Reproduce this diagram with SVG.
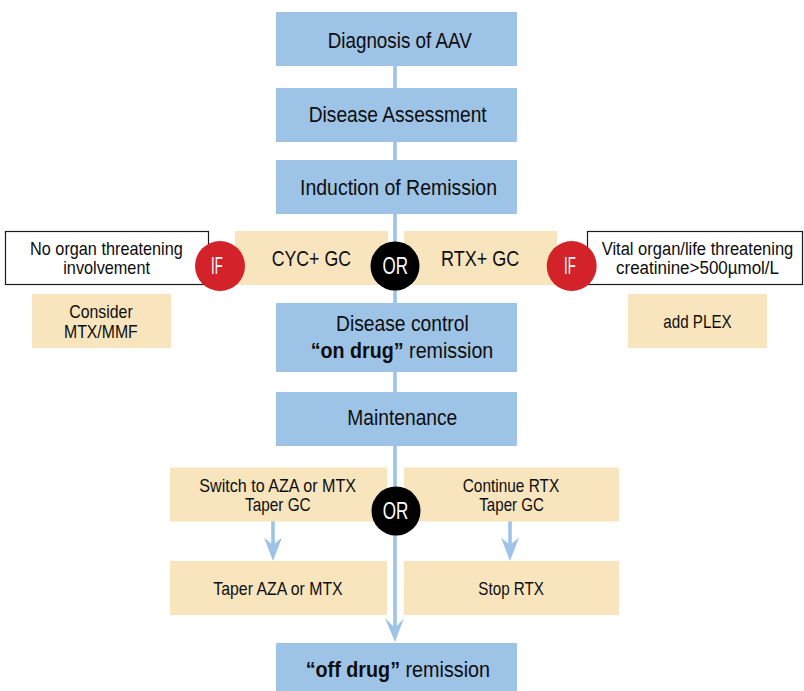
<svg xmlns="http://www.w3.org/2000/svg" width="804" height="691" viewBox="0 0 804 691">
<style>
.blue{fill:#9dc3e6}
.tan{fill:#f8e5bd}
.white{fill:#ffffff;stroke:#1a1a1a;stroke-width:1.2}
.red{fill:#d3222a}
.black{fill:#000000}
.line{stroke:#9dc3e6;stroke-width:3.6;fill:none}
.head{fill:#9dc3e6}
text{font-family:"Liberation Sans",Arial,sans-serif;fill:#0d0d0d}
.t21{font-size:22px}
.t18{font-size:19px}
.t17{font-size:18px}
.b{font-weight:bold}
.w{fill:#ffffff;font-size:23px}
</style>
<g id="connectors">
<line class="line" x1="395" y1="60" x2="395" y2="630"/>
<path class="head" d="M395,642 L385,618 L395,628 L404,618 Z"/>
<line class="line" x1="273" y1="521" x2="273" y2="548"/>
<path class="head" d="M273,561 L264,537.5 L273,545 L282,537.5 Z"/>
<line class="line" x1="510" y1="521" x2="510" y2="548"/>
<path class="head" d="M510,561 L501,537.5 L510,545 L519,537.5 Z"/>
</g>
<g id="diagnosis">
<rect class="blue" x="276" y="12" width="241" height="54"/>
<text class="t21" x="327.7" y="47.7" textLength="144" lengthAdjust="spacingAndGlyphs">Diagnosis of AAV</text>
</g>
<g id="assessment">
<rect class="blue" x="276" y="88" width="241" height="54"/>
<text class="t21" x="308.7" y="122" textLength="178" lengthAdjust="spacingAndGlyphs">Disease Assessment</text>
</g>
<g id="induction">
<rect class="blue" x="276" y="160" width="241" height="54"/>
<text class="t21" x="300" y="195" textLength="197" lengthAdjust="spacingAndGlyphs">Induction of Remission</text>
</g>
<g id="no-organ">
<rect class="white" x="5.5" y="231.5" width="203" height="53"/>
<text class="t18" x="106.4" y="255" text-anchor="middle" textLength="152.7" lengthAdjust="spacingAndGlyphs">No organ threatening</text>
<text class="t18" x="106.6" y="274.3" text-anchor="middle" textLength="86.7" lengthAdjust="spacingAndGlyphs">involvement</text>
</g>
<g id="cyc">
<rect class="tan" x="235" y="231" width="153" height="54"/>
<text class="t21" x="271.7" y="265.7" textLength="79.3" lengthAdjust="spacingAndGlyphs">CYC+ GC</text>
</g>
<g id="rtx">
<rect class="tan" x="404" y="231" width="153" height="54"/>
<text class="t21" x="441" y="265.7" textLength="78.3" lengthAdjust="spacingAndGlyphs">RTX+ GC</text>
</g>
<g id="vital-organ">
<rect class="white" x="587.5" y="231.5" width="215" height="53"/>
<text class="t17" x="697.5" y="255" text-anchor="middle" textLength="191.6" lengthAdjust="spacingAndGlyphs">Vital organ/life threatening</text>
<text class="t17" x="697.5" y="274.3" text-anchor="middle" textLength="163" lengthAdjust="spacingAndGlyphs">creatinine&gt;500µmol/L</text>
</g>
<g id="if-left">
<circle class="red" cx="220" cy="266" r="25"/>
<text class="w" x="211" y="274.3" textLength="11.7" lengthAdjust="spacingAndGlyphs">IF</text>
</g>
<g id="or-top">
<circle class="black" cx="395" cy="266" r="24.5"/>
<text class="w" x="382.5" y="274.3" textLength="25.5" lengthAdjust="spacingAndGlyphs">OR</text>
</g>
<g id="if-right">
<circle class="red" cx="571.7" cy="266" r="25"/>
<text class="w" x="564" y="274.3" textLength="11.7" lengthAdjust="spacingAndGlyphs">IF</text>
</g>
<g id="consider">
<rect class="tan" x="32" y="294" width="139" height="54"/>
<text class="t18" x="69.3" y="318.3" textLength="63.4" lengthAdjust="spacingAndGlyphs">Consider</text>
<text class="t18" x="64" y="337.7" textLength="73.7" lengthAdjust="spacingAndGlyphs">MTX/MMF</text>
</g>
<g id="plex">
<rect class="tan" x="628" y="294" width="139" height="54"/>
<text class="t18" x="663.3" y="328.3" textLength="68.4" lengthAdjust="spacingAndGlyphs">add PLEX</text>
</g>
<g id="disease-control">
<rect class="blue" x="276" y="303" width="241" height="69"/>
<text class="t21" x="336" y="331" textLength="132.7" lengthAdjust="spacingAndGlyphs">Disease control</text>
<text class="t21" x="310.7" y="358" textLength="182.6" lengthAdjust="spacingAndGlyphs"><tspan class="b">“on drug”</tspan> remission</text>
</g>
<g id="maintenance">
<rect class="blue" x="276" y="392" width="241" height="54"/>
<text class="t21" x="347.3" y="425" textLength="110" lengthAdjust="spacingAndGlyphs">Maintenance</text>
</g>
<g id="switch">
<rect class="tan" x="170" y="467.5" width="217" height="54"/>
<text class="t18" x="199.3" y="491.7" textLength="156.7" lengthAdjust="spacingAndGlyphs">Switch to AZA or MTX</text>
<text class="t18" x="245" y="511" textLength="65.7" lengthAdjust="spacingAndGlyphs">Taper GC</text>
</g>
<g id="continue">
<rect class="tan" x="404" y="467.5" width="215" height="54"/>
<text class="t18" x="462.7" y="491.7" textLength="96.6" lengthAdjust="spacingAndGlyphs">Continue RTX</text>
<text class="t18" x="479.3" y="511" textLength="64.7" lengthAdjust="spacingAndGlyphs">Taper GC</text>
</g>
<g id="or-bottom">
<circle class="black" cx="396" cy="511" r="24.5"/>
<text class="w" x="382.7" y="519.3" textLength="25.6" lengthAdjust="spacingAndGlyphs">OR</text>
</g>
<g id="taper-aza">
<rect class="tan" x="170" y="561" width="217" height="54"/>
<text class="t18" x="213.3" y="595" textLength="129.4" lengthAdjust="spacingAndGlyphs">Taper AZA or MTX</text>
</g>
<g id="stop-rtx">
<rect class="tan" x="404" y="561" width="215" height="54"/>
<text class="t18" x="478.3" y="595" textLength="65.7" lengthAdjust="spacingAndGlyphs">Stop RTX</text>
</g>
<g id="off-drug">
<rect class="blue" x="276" y="643" width="241" height="48"/>
<text class="t21" x="305.7" y="677.3" textLength="184.3" lengthAdjust="spacingAndGlyphs"><tspan class="b">“off drug”</tspan> remission</text>
</g>
</svg>
